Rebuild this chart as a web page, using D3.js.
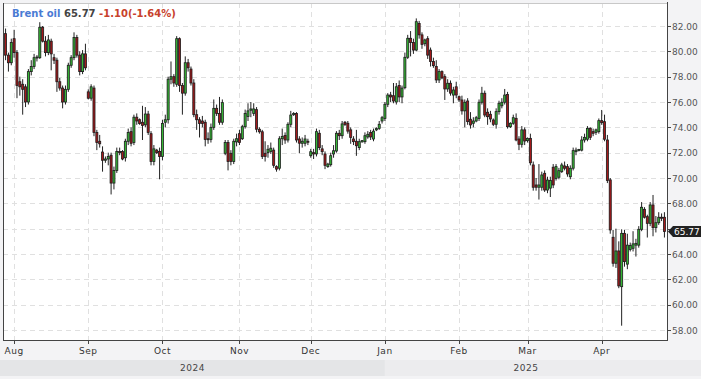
<!DOCTYPE html>
<html lang="en">
<head>
<meta charset="UTF-8">
<script src="https://d3js.org/d3.v7.min.js"></script>
<title>Brent oil</title>
<style>
  body { margin: 0; background: #f3f3f5; }
  svg text { font-family: "DejaVu Sans", Verdana, sans-serif; }
</style>
</head>
<body>
<div id="container"></div>
<script>
// daily candles (incl. short Sunday sessions)
const dates = [
  "2024-07-29","2024-07-30","2024-07-31",
  "2024-08-01","2024-08-02","2024-08-04","2024-08-05","2024-08-06","2024-08-07","2024-08-08","2024-08-09","2024-08-11","2024-08-12","2024-08-13","2024-08-14","2024-08-15","2024-08-16","2024-08-18","2024-08-19","2024-08-20","2024-08-21","2024-08-22","2024-08-23","2024-08-25","2024-08-26","2024-08-27","2024-08-28","2024-08-29","2024-08-30",
  "2024-09-01","2024-09-02","2024-09-03","2024-09-04","2024-09-05","2024-09-06","2024-09-08","2024-09-09","2024-09-10","2024-09-11","2024-09-12","2024-09-13","2024-09-15","2024-09-16","2024-09-17","2024-09-18","2024-09-19","2024-09-20","2024-09-22","2024-09-23","2024-09-24","2024-09-25","2024-09-26","2024-09-27","2024-09-29","2024-09-30",
  "2024-10-01","2024-10-02","2024-10-03","2024-10-04","2024-10-06","2024-10-07","2024-10-08","2024-10-09","2024-10-10","2024-10-11","2024-10-13","2024-10-14","2024-10-15","2024-10-16","2024-10-17","2024-10-18","2024-10-20","2024-10-21","2024-10-22","2024-10-23","2024-10-24","2024-10-25","2024-10-27","2024-10-28","2024-10-29","2024-10-30","2024-10-31",
  "2024-11-01","2024-11-03","2024-11-04","2024-11-05","2024-11-06","2024-11-07","2024-11-08","2024-11-10","2024-11-11","2024-11-12","2024-11-13","2024-11-14","2024-11-15","2024-11-17","2024-11-18","2024-11-19","2024-11-20","2024-11-21","2024-11-22","2024-11-24","2024-11-25","2024-11-26","2024-11-27","2024-11-28","2024-11-29",
  "2024-12-01","2024-12-02","2024-12-03","2024-12-04","2024-12-05","2024-12-06","2024-12-08","2024-12-09","2024-12-10","2024-12-11","2024-12-12","2024-12-13","2024-12-15","2024-12-16","2024-12-17","2024-12-18","2024-12-19","2024-12-20","2024-12-22","2024-12-23","2024-12-24","2024-12-26","2024-12-27","2024-12-29","2024-12-30","2024-12-31",
  "2025-01-02","2025-01-03","2025-01-05","2025-01-06","2025-01-07","2025-01-08","2025-01-09","2025-01-10","2025-01-12","2025-01-13","2025-01-14","2025-01-15","2025-01-16","2025-01-17","2025-01-19","2025-01-20","2025-01-21","2025-01-22","2025-01-23","2025-01-24","2025-01-26","2025-01-27","2025-01-28","2025-01-29","2025-01-30","2025-01-31",
  "2025-02-02","2025-02-03","2025-02-04","2025-02-05","2025-02-06","2025-02-07","2025-02-09","2025-02-10","2025-02-11","2025-02-12","2025-02-13","2025-02-14","2025-02-16","2025-02-17","2025-02-18","2025-02-19","2025-02-20","2025-02-21","2025-02-23","2025-02-24","2025-02-25","2025-02-26","2025-02-27","2025-02-28",
  "2025-03-02","2025-03-03","2025-03-04","2025-03-05","2025-03-06","2025-03-07","2025-03-09","2025-03-10","2025-03-11","2025-03-12","2025-03-13","2025-03-14","2025-03-16","2025-03-17","2025-03-18","2025-03-19","2025-03-20","2025-03-21","2025-03-23","2025-03-24","2025-03-25","2025-03-26","2025-03-27","2025-03-28","2025-03-30","2025-03-31",
  "2025-04-01","2025-04-02","2025-04-03","2025-04-04","2025-04-06","2025-04-07","2025-04-08","2025-04-09","2025-04-10","2025-04-11","2025-04-13","2025-04-14","2025-04-15","2025-04-16","2025-04-17","2025-04-20","2025-04-21","2025-04-22","2025-04-23","2025-04-24","2025-04-25","2025-04-27","2025-04-28"
];

const open = [
  81.4,79.7,79.1,
  81.0,79.9,77.6,77.4,77.2,76.0,78.4,78.8,79.5,79.5,81.9,80.8,79.9,80.8,79.5,79.3,77.6,77.1,76.0,77.0,78.9,79.5,81.1,79.7,78.4,79.8,
  76.8,76.3,77.1,73.6,72.9,72.05,71.4,71.5,71.8,69.6,70.6,72.1,72.1,71.6,72.9,73.66,72.8,74.8,74.6,74.4,74.2,75.05,73.5,71.3,72.2,72.1,
  71.7,74.4,74.6,77.8,78.0,77.4,81.0,77.3,76.7,79.1,78.6,77.5,75.0,74.6,74.5,74.4,73.1,73.05,74.0,75.5,75.1,74.4,71.95,72.8,71.95,71.3,72.85,
  73.5,73.1,74.05,74.85,75.35,75.1,75.4,73.85,73.65,71.95,72.0,72.1,72.2,70.9,70.77,73.1,73.35,73.0,74.24,75.0,75.1,73.08,72.74,72.74,72.9,
  71.76,72.0,71.9,73.53,72.3,71.9,70.9,71.05,71.9,72.13,73.53,73.34,74.4,74.32,73.8,73.08,72.9,72.4,72.85,72.87,73.24,73.6,73.08,73.8,73.92,74.5,
  74.7,75.82,76.55,76.5,76.0,77.3,76.4,77.13,79.53,81.03,80.7,80.1,82.2,81.3,80.6,81.0,80.1,79.2,78.8,77.74,78.4,78.0,77.03,77.48,76.55,77.2,
  76.42,76.16,75.3,76.08,74.64,74.32,74.5,74.7,75.98,76.69,75.19,75.03,74.58,74.24,75.24,75.7,75.98,76.6,74.05,74.32,74.71,73.08,72.66,73.8,
  72.95,73.13,71.03,69.45,69.27,69.27,70.37,69.05,69.2,70.85,69.97,70.06,70.5,70.95,70.9,70.1,70.77,72.08,72.2,72.2,73.0,73.06,73.92,73.66,73.6,73.66,
  74.53,74.45,73.0,69.85,65.32,63.27,64.24,61.42,65.63,63.2,64.35,64.45,64.7,64.7,65.95,67.53,66.95,66.42,67.87,66.08,66.47,66.9,66.9
];

const high = [
  81.8,79.9,81.0,
  81.7,80.1,78.0,77.8,77.4,78.6,79.3,79.8,79.7,82.3,82.0,81.2,81.3,81.0,79.8,79.5,77.9,77.3,77.3,79.1,79.7,81.5,81.3,80.0,80.1,80.6,
  77.0,77.4,77.3,73.8,73.4,72.5,71.7,72.0,72.0,70.9,72.4,72.4,72.2,73.1,73.9,74.0,75.0,75.1,74.7,75.7,75.6,75.3,73.7,72.6,72.3,72.4,
  74.6,75.0,78.0,79.2,78.2,81.2,81.1,77.5,79.6,79.4,78.8,77.8,75.4,74.8,74.9,74.6,73.6,74.3,76.2,75.8,76.4,76.2,73.0,73.0,72.2,73.1,73.5,
  73.8,74.2,75.4,75.9,76.0,75.9,75.6,74.0,73.8,72.9,72.6,72.8,72.4,71.0,73.3,73.9,73.6,74.4,75.3,75.2,75.2,73.3,73.2,73.4,73.1,
  72.3,72.3,73.9,73.8,72.6,72.1,71.2,72.0,72.6,73.7,73.8,74.5,74.5,74.5,74.0,73.3,73.8,73.1,73.0,73.6,73.7,73.8,73.9,74.0,74.5,74.9,
  76.0,76.7,76.8,77.5,77.5,77.7,77.3,79.9,81.3,81.6,81.0,82.6,82.4,81.5,81.0,81.2,80.3,79.5,79.3,78.6,78.5,78.2,77.8,77.7,77.2,77.6,
  76.5,76.5,76.2,76.3,75.2,74.8,74.9,76.2,77.2,76.9,75.5,75.3,74.7,75.5,76.1,76.3,77.03,76.8,74.4,75.0,75.1,73.3,74.1,74.0,
  73.2,73.5,71.3,70.0,71.1,70.5,70.6,70.1,70.1,71.1,71.1,70.8,71.2,71.3,71.1,71.0,72.4,72.4,72.3,73.3,73.5,74.1,74.0,73.9,73.9,74.7,
  75.37,75.0,73.4,70.0,65.9,66.0,65.0,65.95,65.9,65.6,64.9,65.8,65.2,66.2,68.1,67.7,67.1,68.1,68.66,67.0,67.3,67.2,67.3
];

const low = [
  79.3,78.4,78.9,
  79.5,76.3,76.5,75.0,75.6,75.8,78.1,78.6,79.2,79.4,80.7,79.6,79.7,78.5,79.0,76.8,76.9,75.5,75.8,76.8,78.7,79.3,79.5,78.1,78.2,78.5,
  76.2,76.1,73.3,72.2,72.4,70.5,71.2,71.0,68.7,69.1,70.4,71.8,71.4,71.3,72.6,72.5,72.6,74.2,74.2,73.0,74.0,73.4,71.0,71.0,71.9,69.9,
  71.4,74.0,74.3,77.4,77.2,77.2,76.8,75.0,76.5,78.4,77.3,74.8,73.8,73.2,74.0,72.5,72.7,72.8,73.8,74.9,74.2,74.2,71.8,70.6,71.0,71.1,72.5,
  72.6,73.0,73.9,74.5,74.8,74.9,73.6,73.5,71.5,71.3,71.6,71.9,70.8,70.5,70.6,72.6,72.7,72.8,74.0,74.9,72.8,71.95,72.4,72.5,72.6,
  71.6,71.5,71.7,72.2,71.8,70.7,70.8,70.9,71.6,72.0,73.0,73.1,74.1,73.5,72.7,72.6,71.75,72.2,72.8,72.7,73.1,73.0,72.9,73.7,73.8,74.3,
  74.5,75.6,76.0,75.9,75.8,76.0,75.9,77.0,79.4,79.6,79.8,80.0,81.0,80.2,80.4,79.4,78.8,78.7,77.5,77.5,77.8,76.16,76.8,76.5,75.9,76.3,
  76.0,75.0,74.0,74.2,73.9,74.0,74.4,74.5,75.8,74.8,74.2,74.4,74.1,73.9,75.0,75.5,75.8,73.9,73.95,74.2,72.9,72.2,72.4,72.6,
  72.8,71.0,69.0,69.0,68.3,69.0,68.9,68.8,68.5,69.2,69.8,69.9,70.4,70.6,70.1,69.9,70.6,71.8,72.1,72.1,72.8,72.9,73.0,73.3,73.4,73.5,
  74.2,72.9,69.6,65.6,63.0,62.9,61.3,58.34,63.0,62.8,64.2,64.2,63.8,64.5,65.8,66.8,65.3,66.2,65.4,65.7,66.3,66.6,65.3
];

const close = [
  79.7,79.1,80.7,
  79.9,77.3,77.2,77.0,76.0,78.4,78.8,79.5,79.55,81.9,80.8,79.9,80.9,79.8,79.3,77.6,77.1,76.0,77.0,78.9,79.5,81.1,79.7,78.4,79.8,78.7,
  76.3,77.2,73.6,72.8,72.7,71.4,71.5,71.7,69.6,70.6,72.1,72.0,71.5,72.9,73.6,72.74,74.8,74.5,74.3,74.15,75.05,73.6,71.3,72.3,72.0,71.7,
  74.3,74.6,77.8,78.0,77.5,81.0,77.3,76.7,79.1,78.7,77.5,75.0,74.6,74.3,74.3,73.05,73.05,74.0,75.5,75.1,74.4,75.95,72.8,71.3,71.3,72.9,73.1,
  72.8,74.05,75.1,75.3,75.45,75.45,73.85,73.65,71.7,71.7,72.27,72.35,71.0,70.7,73.1,73.27,73.0,74.24,74.97,75.1,73.0,72.75,72.9,73.08,72.85,
  72.08,71.9,73.66,72.4,72.08,71.0,71.1,71.76,72.15,73.53,73.34,74.27,74.23,73.7,73.2,72.87,72.55,72.87,72.95,73.34,73.45,73.24,73.7,73.9,74.24,74.76,
  75.82,76.55,76.4,76.08,77.2,76.4,77.1,79.53,81.03,80.7,80.1,82.34,81.3,80.55,80.9,79.7,79.2,78.87,77.74,78.4,77.9,77.03,77.48,76.7,76.95,76.55,
  76.16,75.3,75.98,74.45,74.19,74.5,74.76,75.98,76.69,74.97,74.84,74.66,74.24,75.24,75.9,75.98,76.55,74.05,74.32,74.76,73.0,72.66,73.8,72.92,
  73.13,71.2,69.27,69.27,69.45,70.24,69.05,69.84,69.8,69.45,70.9,70.58,71.03,70.77,70.32,70.77,72.16,72.2,72.25,73.0,73.21,73.92,73.21,73.53,73.8,74.53,
  74.37,73.06,69.8,65.9,63.27,64.24,61.48,65.63,63.4,64.7,64.68,64.8,64.84,65.95,67.69,66.9,66.42,67.87,66.08,66.47,66.9,66.87,65.77
];

const priceTicks = [58, 60, 62, 64, 66, 68, 70, 72, 74, 76, 78, 80, 82];
const monthTicks = ["2024-08-01","2024-09-01","2024-10-01","2024-11-01","2024-12-01","2025-01-02","2025-02-02","2025-03-02","2025-04-01"];
const monthLabels = ["Aug","Sep","Oct","Nov","Dec","Jan","Feb","Mar","Apr"];
const yearStarts = ["2024-07-29","2025-01-02"];
const yearLabels = ["2024","2025"];
const seriesName = "Brent oil";

const width = 701;
const height = 379;
const plot = {left: 3, right: 667, top: 3, bottom: 340};

const candles = dates.map((d, i) => ({date: d, o: open[i], h: high[i], l: low[i], c: close[i]}));

// plain hyphen minus like the original
const fmt = (v) => d3.format('.2f')(v).replace('\u2212', '-');

const x = d3.scalePoint()
    .domain(dates)
    .range([plot.left, plot.right])
    .padding(0.9);

const y = d3.scaleLinear()
    .domain([58, 82])
    .range([330, 26]);

const svg = d3.select('#container')
    .append('svg')
    .attr('width', width)
    .attr('height', height)
    .attr('viewBox', [0, 0, width, height]);

svg.append('rect')
    .attr('width', width).attr('height', height)
    .attr('fill', '#f3f3f5');

// year band
const janX = x(yearStarts[1]);
svg.append('rect')
    .attr('x', 0).attr('y', 360).attr('width', janX).attr('height', 16)
    .attr('fill', '#e4e5e7');
svg.append('rect')
    .attr('x', janX).attr('y', 360).attr('width', width - janX).attr('height', 16)
    .attr('fill', '#ececee');
svg.selectAll('.year')
    .data(yearLabels)
    .enter()
    .append('text')
    .attr('x', (d, i) => i == 0 ? janX / 2 : (janX + plot.right) / 2)
    .attr('y', 371)
    .attr('text-anchor', 'middle')
    .style('font-size', '9px')
    .style('fill', '#444')
    .style('letter-spacing', '0.5px')
    .text(d => d);

// plot background
svg.append('rect')
    .attr('x', plot.left).attr('y', plot.top)
    .attr('width', plot.right - plot.left).attr('height', plot.bottom - plot.top)
    .attr('fill', '#fff');

// grid
const grid = svg.append('g')
    .attr('stroke', '#e0e0e0')
    .attr('stroke-dasharray', '5,4')
    .attr('shape-rendering', 'crispEdges');

grid.selectAll('.hgrid')
    .data(priceTicks)
    .enter()
    .append('line')
    .attr('x1', plot.left).attr('x2', plot.right)
    .attr('y1', d => Math.round(y(d)) + 0.5)
    .attr('y2', d => Math.round(y(d)) + 0.5);

grid.selectAll('.vgrid')
    .data(monthTicks)
    .enter()
    .append('line')
    .attr('x1', d => Math.round(x(d)) + 0.5)
    .attr('x2', d => Math.round(x(d)) + 0.5)
    .attr('y1', plot.top).attr('y2', plot.bottom);

// candles
const step = x.step();
const bodyW = step * 0.72;

svg.append('g')
    .selectAll('line')
    .data(candles)
    .enter()
    .append('line')
    .attr('x1', d => x(d.date)).attr('x2', d => x(d.date))
    .attr('y1', d => y(d.h)).attr('y2', d => y(d.l))
    .attr('stroke', '#222')
    .attr('stroke-width', 1);

svg.append('g')
    .selectAll('rect')
    .data(candles)
    .enter()
    .append('rect')
    .attr('x', d => x(d.date) - bodyW / 2)
    .attr('width', bodyW)
    .attr('y', d => y(Math.max(d.o, d.c)))
    .attr('height', d => Math.max(1, Math.abs(y(d.o) - y(d.c))))
    .attr('fill', d => d.c >= d.o ? '#36b836' : '#a3191b')
    .attr('stroke', '#1c1c1c')
    .attr('stroke-width', 0.8);

// frame
const frame = svg.append('g').attr('shape-rendering', 'crispEdges');
frame.append('line')
    .attr('x1', plot.left).attr('x2', plot.right)
    .attr('y1', plot.top + 0.5).attr('y2', plot.top + 0.5)
    .attr('stroke', '#c8c8c8');
frame.append('line')
    .attr('x1', plot.left + 0.5).attr('x2', plot.left + 0.5)
    .attr('y1', plot.top).attr('y2', plot.bottom)
    .attr('stroke', '#444');
frame.append('line')
    .attr('x1', plot.right + 0.5).attr('x2', plot.right + 0.5)
    .attr('y1', plot.top - 1).attr('y2', plot.bottom + 1)
    .attr('stroke', '#444');
frame.append('line')
    .attr('x1', plot.left).attr('x2', plot.right + 1)
    .attr('y1', plot.bottom + 0.5).attr('y2', plot.bottom + 0.5)
    .attr('stroke', '#444');

// last price (its marker covers the nearby axis label, as in the original)
const last = candles[candles.length - 1];
const prev = candles[candles.length - 2];
const ly = y(last.c);
const shownTicks = priceTicks.filter(d => Math.abs(y(d) - ly) > 9);

// right axis
const yAxis = svg.append('g');
yAxis.selectAll('line')
    .data(priceTicks)
    .enter()
    .append('line')
    .attr('x1', plot.right).attr('x2', plot.right + 4)
    .attr('y1', d => Math.round(y(d)) + 0.5)
    .attr('y2', d => Math.round(y(d)) + 0.5)
    .attr('stroke', '#444')
    .attr('shape-rendering', 'crispEdges');
yAxis.selectAll('text')
    .data(shownTicks)
    .enter()
    .append('text')
    .attr('x', plot.right + 5)
    .attr('y', d => y(d) + 3.5)
    .style('font-size', '9px')
    .style('fill', '#555')
    .text(d => fmt(d));

// bottom axis
const xAxis = svg.append('g');
xAxis.selectAll('line')
    .data(monthTicks)
    .enter()
    .append('line')
    .attr('x1', d => Math.round(x(d)) + 0.5)
    .attr('x2', d => Math.round(x(d)) + 0.5)
    .attr('y1', plot.bottom).attr('y2', plot.bottom + 4)
    .attr('stroke', '#444')
    .attr('shape-rendering', 'crispEdges');
xAxis.selectAll('text')
    .data(monthTicks)
    .enter()
    .append('text')
    .attr('x', d => x(d))
    .attr('y', 354)
    .attr('text-anchor', 'middle')
    .style('font-size', '9px')
    .style('fill', '#333')
    .style('letter-spacing', '0.5px')
    .text((d, i) => monthLabels[i]);

svg.append('path')
    .attr('d', `M${plot.right + 1},${ly} L${plot.right + 6},${ly - 5.5} L${width},${ly - 5.5} L${width},${ly + 5.5} L${plot.right + 6},${ly + 5.5} Z`)
    .attr('fill', '#222');
svg.append('text')
    .attr('x', plot.right + 7)
    .attr('y', ly + 3.5)
    .style('font-size', '9px')
    .style('fill', '#fff')
    .text(fmt(last.c));

// legend
const chg = last.c - prev.c;
const legend = svg.append('text')
    .attr('x', 12)
    .attr('y', 17)
    .style('font-size', '10px')
    .style('font-weight', 'bold');
legend.append('tspan').style('fill', '#4a7bd4').text(seriesName);
legend.append('tspan').style('fill', '#444').text(' ' + fmt(last.c));
legend.append('tspan').style('fill', '#c8422c')
    .text(' ' + fmt(chg) + '(' + fmt(chg / prev.c * 100) + '%)');
</script>
</body>
</html>
